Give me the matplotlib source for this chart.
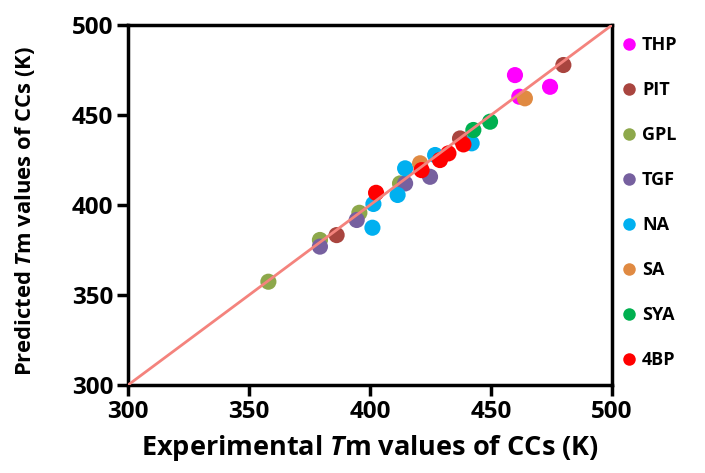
import numpy as np
import matplotlib
matplotlib.use('Agg')
import matplotlib.pyplot as plt
from matplotlib.lines import Line2D

plt.rcParams['font.family'] = ['Open Sans', 'DejaVu Sans']
plt.rcParams['font.weight'] = 'bold'
plt.rcParams['mathtext.fontset'] = 'custom'
plt.rcParams['mathtext.it'] = 'Open Sans:italic:bold'
plt.rcParams['mathtext.rm'] = 'Open Sans:bold'

# experimental vs predicted Tm (K)
groups = ['THP', 'PIT', 'GPL', 'TGF', 'NA', 'SA', 'SYA', '4BP']
colors = ['#FF00FF', '#A9453F', '#8DA84B', '#76609F', '#00B0F0', '#E08A42', '#00B050', '#FF0000']

exp_THP = [459.9, 474.4, 461.7]
pred_THP = [472.2, 465.7, 460.2]
exp_PIT = [479.9, 386.2, 437.2]
pred_PIT = [477.8, 383.3, 437.0]
exp_GPL = [358.0, 379.3, 395.6, 412.4]
pred_GPL = [357.4, 380.6, 395.7, 412.0]
exp_TGF = [379.3, 394.5, 414.5, 424.8]
pred_TGF = [376.9, 391.7, 412.0, 415.7]
exp_NA = [401.0, 401.4, 411.4, 414.5, 426.9, 442.0]
pred_NA = [387.4, 400.6, 405.6, 420.4, 427.8, 434.3]
exp_SA = [420.7, 464.0]
pred_SA = [423.2, 459.3]
exp_SYA = [442.7, 449.6]
pred_SYA = [441.7, 446.3]
exp_4BP = [402.5, 421.3, 428.9, 432.4, 438.6]
pred_4BP = [406.8, 419.4, 425.0, 428.7, 433.7]

xs = [exp_THP, exp_PIT, exp_GPL, exp_TGF, exp_NA, exp_SA, exp_SYA, exp_4BP]
ys = [pred_THP, pred_PIT, pred_GPL, pred_TGF, pred_NA, pred_SA, pred_SYA, pred_4BP]

fig = plt.figure(figsize=(7.05, 4.73), dpi=100)
ax = fig.add_axes([0.1816, 0.186, 0.6865, 0.761])

for g, c, x, y in zip(groups, colors, xs, ys):
    ax.scatter(x, y, s=135, color=c, edgecolors='none', zorder=3)

# 1:1 line
ax.plot([300, 500], [300, 500], color='#F4837D', lw=2, zorder=4)

ax.set_xlim(300, 500)
ax.set_ylim(300, 500)
ax.set_xticks(np.arange(300, 501, 50))
ax.set_yticks(np.arange(300, 501, 50))
ax.tick_params(direction='out', length=8, width=2.5, labelsize=17.5, pad=2.5)
for lab in ax.get_xticklabels() + ax.get_yticklabels():
    lab.set_fontweight('bold')
for sp in ax.spines.values():
    sp.set_linewidth(2.5)

ax.set_xlabel('Experimental $\\mathit{T}$m values of CCs (K)', fontsize=19.5, fontweight='bold', labelpad=7)
ax.set_ylabel('Predicted $\\mathit{T}$m values of CCs (K)', fontsize=15.8, fontweight='bold',
              labelpad=25, y=0.483)

handles = [Line2D([], [], ls='none', marker='o', markersize=9, color=c, markeredgewidth=0)
           for c in colors]
ax.legend(handles, groups, loc='upper left', bbox_to_anchor=(0.995, 1.005), frameon=False,
          labelspacing=1.5, handlelength=0.8, handletextpad=0.3,
          borderaxespad=0.3, prop={'weight': 'bold', 'size': 13})

fig.savefig('out.png', dpi=100)
